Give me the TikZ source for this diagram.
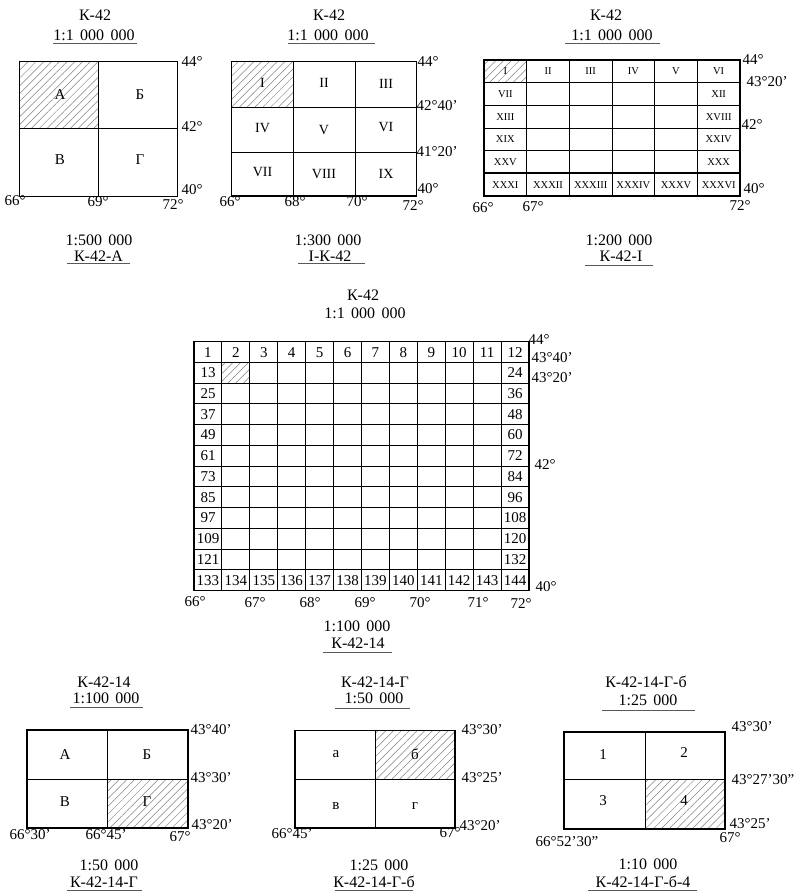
\documentclass[tikz,border=0pt]{standalone}
\usepackage{fontspec}
\setmainfont{Liberation Serif}
\usetikzlibrary{patterns.meta}
\newcommand{\gp}{\hspace{0.4em}}
\begin{document}
\begin{tikzpicture}[x=1pt,y=-1pt,
  lbl/.style={font=\fontsize{16}{16}\selectfont, inner sep=0pt},
  deg/.style={font=\fontsize{15}{15}\selectfont, inner sep=0pt},
  cell/.style={font=\fontsize{15}{15}\selectfont, inner sep=0pt},
  rom/.style={font=\fontsize{14}{14}\selectfont, inner sep=0pt},
  rsm/.style={font=\fontsize{10.5}{10.5}\selectfont, inner sep=0pt},
  num/.style={font=\fontsize{15}{15}\selectfont, inner sep=0pt},
  box/.style={draw, line width=1.3pt},
  gridl/.style={line width=1pt},
  hatch/.style={pattern={Lines[angle=45,distance=5.5pt,line width=0.5pt]}, pattern color=black!50},
  uline/.style={line width=0.9pt, black!65}]
\useasboundingbox (0,0) rectangle (801,891);

% ================= Panel 1 =================
\fill[hatch] (19.5,61.5) rectangle (98.3,128.3);
\draw[box] (19.5,61.5) rectangle (177.7,196.7);
\draw[gridl] (98.3,61.5) -- (98.3,196.7) (19.5,128.3) -- (177.7,128.3);
\node[lbl] (p1a) at (95,15) {К-42};
\node[lbl] (p1b) at (94,35) {1:1\gp000\gp000};
\draw[uline] (53,43) -- (137,43);
\node[lbl] (p1c) at (99,240) {1:500\gp000};
\node[lbl] (p1d) at (98.5,256) {К-42-А};
\draw[uline] (67,263) -- (130,263);
\node[cell] (p1A) at (60,95) {А};
\node[cell] (p1B) at (140,95) {Б};
\node[cell] (p1V) at (60,160) {В};
\node[cell] (p1G) at (140,160) {Г};
\node[deg] (p1n1) at (192,62) {44°};
\node[deg] (p1n2) at (192,127) {42°};
\node[deg] (p1n3) at (192,190) {40°};
\node[deg] (p1e1) at (15,201) {66°};
\node[deg] (p1e2) at (98,202) {69°};
\node[deg] (p1e3) at (173,205) {72°};

% ================= Panel 2 =================
\fill[hatch] (231.7,61.7) rectangle (293.3,107.3);
\draw[box] (231.7,61.7) rectangle (416.7,196);
\draw[gridl] (293.3,61.7) -- (293.3,196) (355,61.7) -- (355,196)
  (231.7,107.3) -- (416.7,107.3) (231.7,152.3) -- (416.7,152.3);
\node[lbl] (p2a) at (329,15) {К-42};
\node[lbl] (p2b) at (328,35) {1:1\gp000\gp000};
\draw[uline] (288,43) -- (375,43);
\node[lbl] (p2c) at (328,240) {1:300\gp000};
\node[lbl] (p2d) at (330,256) {I-К-42};
\draw[uline] (298,263) -- (365,263);
\node[rom] (p2r1) at (262.5,83) {I};
\node[rom] (p2r2) at (324,83) {II};
\node[rom] (p2r3) at (386,84) {III};
\node[rom] (p2r4) at (262.5,128) {IV};
\node[rom] (p2r5) at (324,130) {V};
\node[rom] (p2r6) at (386,127) {VI};
\node[rom] (p2r7) at (262.5,172) {VII};
\node[rom] (p2r8) at (324,174) {VIII};
\node[rom] (p2r9) at (386,174) {IX};
\node[deg] (p2n1) at (428,62) {44°};
\node[deg] (p2n2) at (437,106) {42°40'};
\node[deg] (p2n3) at (437,152) {41°20'};
\node[deg] (p2n4) at (428,189) {40°};
\node[deg] (p2e1) at (230,202) {66°};
\node[deg] (p2e2) at (295,202) {68°};
\node[deg] (p2e3) at (357,202) {70°};
\node[deg] (p2e4) at (413,206) {72°};

% ================= Panel 3 =================
\fill[hatch] (484,60) rectangle (526.7,82.7);
\foreach \i in {0,...,6} {
  \draw[gridl] ({484+\i*42.67},60) -- ({484+\i*42.67},196);
  \draw[gridl] (484,{60+\i*22.67}) -- (740,{60+\i*22.67});
}
\draw[line width=1.8pt] (484,173.3) -- (740,173.3);
\draw[box] (484,60) rectangle (740,196);
\foreach \t [count=\c] in {I,II,III,IV,V,VI} {
  \node[rsm] (p3t\c) at ({484+(\c-0.5)*42.67},71.3) {\t};
}
\foreach \t [count=\c] in {XXXI,XXXII,XXXIII,XXXIV,XXXV,XXXVI} {
  \node[rsm] (p3b\c) at ({484+(\c-0.5)*42.67},184.7) {\t};
}
\foreach \t [count=\r from 2] in {VII,XIII,XIX,XXV} {
  \node[rsm] (p3l\r) at (505.3,{60+(\r-0.5)*22.67}) {\t};
}
\foreach \t [count=\r from 2] in {XII,XVIII,XXIV,XXX} {
  \node[rsm] (p3r\r) at (718.7,{60+(\r-0.5)*22.67}) {\t};
}
\node[lbl] (p3a) at (606,15) {К-42};
\node[lbl] (p3b) at (612,35) {1:1\gp000\gp000};
\draw[uline] (565,43) -- (660,43);
\node[lbl] (p3c) at (619,240) {1:200\gp000};
\node[lbl] (p3d) at (621,256) {К-42-I};
\draw[uline] (585,265) -- (653,265);
\node[deg] (p3n1) at (753,60) {44°};
\node[deg] (p3n2) at (767,82) {43°20'};
\node[deg] (p3n3) at (752,125) {42°};
\node[deg] (p3n4) at (754,189) {40°};
\node[deg] (p3e1) at (483,208) {66°};
\node[deg] (p3e2) at (533,207) {67°};
\node[deg] (p3e3) at (740,206) {72°};

% ================= Panel 4 =================
\fill[hatch] (221.9,362.45) rectangle (249.8,383.2);
\foreach \i in {0,...,12} {
  \draw[gridl] ({194+\i*27.92},341.7) -- ({194+\i*27.92},590.7);
  \draw[gridl] (194,{341.7+\i*20.75}) -- (529,{341.7+\i*20.75});
}
\draw[box] (194,341.7) rectangle (529,590.7);
\foreach \c in {1,...,12} {
  \pgfmathtruncatemacro\bb{132+\c}
  \node[num] (p4t\c) at ({194+(\c-0.5)*27.92},352.5) {\c};
  \node[num] (p4b\c) at ({194+(\c-0.5)*27.92},580.8) {\bb};
}
\foreach \r in {2,...,11} {
  \pgfmathtruncatemacro\ll{(\r-1)*12+1}
  \pgfmathtruncatemacro\rr{\r*12}
  \node[num] (p4l\r) at (208,{341.7+(\r-0.5)*20.75}) {\ll};
  \node[num] (p4r\r) at (515,{341.7+(\r-0.5)*20.75}) {\rr};
}
\node[lbl] (p4a) at (363,295) {К-42};
\node[lbl] (p4b) at (365,313) {1:1\gp000\gp000};
\node[lbl] (p4c) at (357,626) {1:100\gp000};
\node[lbl] (p4d) at (358,643) {К-42-14};
\draw[uline] (323,652) -- (392,652);
\node[deg] (p4n1) at (539,340) {44°};
\node[deg] (p4n2) at (552,358) {43°40'};
\node[deg] (p4n3) at (552,378) {43°20'};
\node[deg] (p4n4) at (545,465) {42°};
\node[deg] (p4n5) at (546,587) {40°};
\node[deg] (p4e1) at (195,602) {66°};
\node[deg] (p4e2) at (255,603) {67°};
\node[deg] (p4e3) at (310,603) {68°};
\node[deg] (p4e4) at (365,603) {69°};
\node[deg] (p4e5) at (420,603) {70°};
\node[deg] (p4e6) at (478,603) {71°};
\node[deg] (p4e7) at (521,604) {72°};

% ================= Panel 5 =================
\fill[hatch] (107,779) rectangle (188,828);
\draw[box] (27,730) rectangle (188,828);
\draw[gridl] (107,730) -- (107,828) (27,779) -- (188,779);
\node[lbl] (p5a) at (104,682) {К-42-14};
\node[lbl] (p5b) at (106,698) {1:100\gp000};
\draw[uline] (70,707) -- (143,707);
\node[lbl] (p5c) at (109,865) {1:50\gp000};
\node[lbl] (p5d) at (104,882) {К-42-14-Г};
\draw[uline] (67,890) -- (142,890);
\node[cell] (p5A) at (65,755) {А};
\node[cell] (p5B) at (147,755) {Б};
\node[cell] (p5V) at (65,802) {В};
\node[cell] (p5G) at (147,802) {Г};
\node[deg] (p5n1) at (211,730) {43°40'};
\node[deg] (p5n2) at (211,778) {43°30'};
\node[deg] (p5n3) at (212,825) {43°20'};
\node[deg] (p5e1) at (30,835) {66°30'};
\node[deg] (p5e2) at (106,835) {66°45'};
\node[deg] (p5e3) at (180,837) {67°};

% ================= Panel 6 =================
\fill[hatch] (375,730.7) rectangle (455,779);
\draw[box] (295,730.7) rectangle (455,828);
\draw[gridl] (375,730.7) -- (375,828) (295,779) -- (455,779);
\node[lbl] (p6a) at (375,682) {К-42-14-Г};
\node[lbl] (p6b) at (374,698) {1:50\gp000};
\draw[uline] (335,708) -- (410,708);
\node[lbl] (p6c) at (379,865) {1:25\gp000};
\node[lbl] (p6d) at (374,882) {К-42-14-Г-б};
\draw[uline] (335,890) -- (413,890);
\node[cell] (p6a1) at (336,754) {а};
\node[cell] (p6b1) at (415,754) {б};
\node[cell] (p6v1) at (336,806) {в};
\node[cell] (p6g1) at (415,806) {г};
\node[deg] (p6n1) at (482,730) {43°30'};
\node[deg] (p6n2) at (482,778) {43°25'};
\node[deg] (p6n3) at (480,826) {43°20'};
\node[deg] (p6e1) at (292,834) {66°45'};
\node[deg] (p6e2) at (450,833) {67°};

% ================= Panel 7 =================
\fill[hatch] (645,779) rectangle (725,829);
\draw[box] (564,732) rectangle (725,829);
\draw[gridl] (645,732) -- (645,829) (564,779) -- (725,779);
\node[lbl] (p7a) at (646,682) {К-42-14-Г-б};
\node[lbl] (p7b) at (648,700) {1:25\gp000};
\draw[uline] (602,710) -- (695,710);
\node[lbl] (p7c) at (648,864) {1:10\gp000};
\node[lbl] (p7d) at (643,882) {К-42-14-Г-б-4};
\draw[uline] (588,890) -- (697,890);
\node[cell] (p7c1) at (603,755) {1};
\node[cell] (p7c2) at (684,753) {2};
\node[cell] (p7c3) at (603,801) {3};
\node[cell] (p7c4) at (684,801) {4};
\node[deg] (p7n1) at (752,727) {43°30'};
\node[deg] (p7n2) at (763,780) {43°27'30''};
\node[deg] (p7n3) at (750,824) {43°25'};
\node[deg] (p7e1) at (567,842) {66°52'30''};
\node[deg] (p7e2) at (730,838) {67°};
\end{tikzpicture}
\end{document}
